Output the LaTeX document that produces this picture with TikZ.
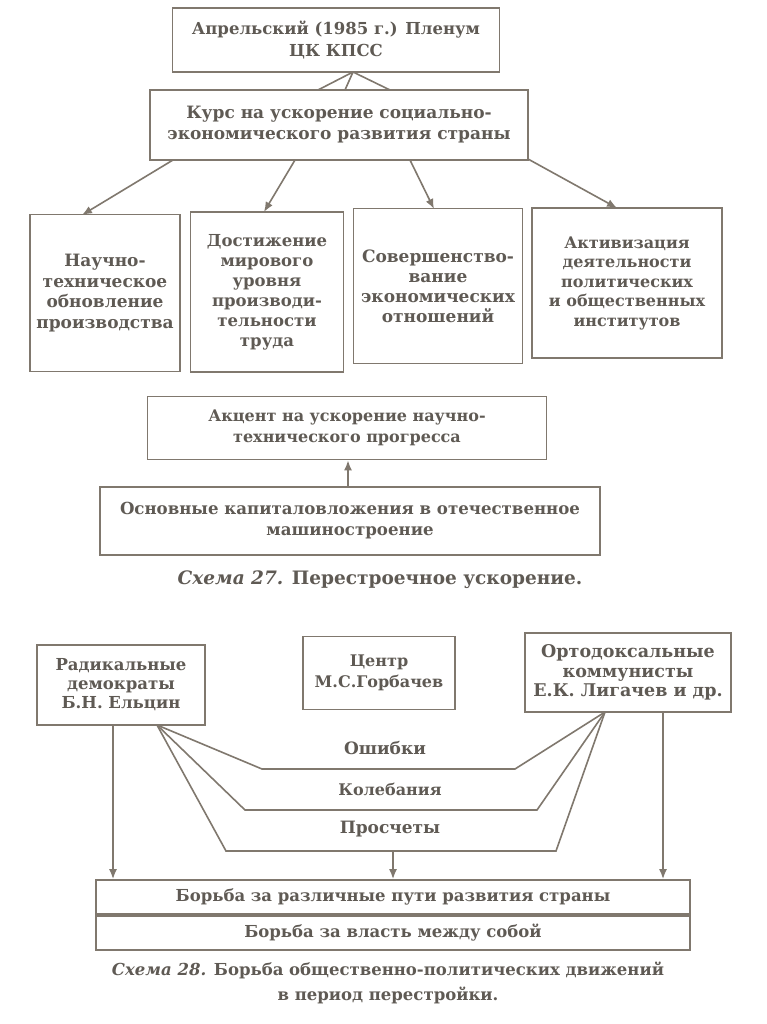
\documentclass[tikz,border=0pt]{standalone}
\usepackage{fontspec}
\setmainfont{DejaVu Serif}
\usetikzlibrary{arrows.meta,calc}
\definecolor{ink}{RGB}{95,90,84}
\definecolor{ln}{RGB}{128,120,110}
\newcommand{\fs}[2]{\bfseries\fontsize{#1}{#2}\selectfont}
\begin{document}
\begin{tikzpicture}[x=1pt,y=-1pt,
  box/.style={draw=ln,line width=1.8pt,align=center,text=ink,font=\fs{16}{20},inner sep=0pt},
  lbl/.style={text=ink,font=\fs{17}{22},inner sep=0pt},
  con/.style={draw=ln,line width=1.6pt},
  arr/.style={con,-{Latex[length=10pt,width=8pt]}}]
\useasboundingbox[fill=white] (0,0) rectangle (767,1024);
% --- Scheme 27
\node[box,font=\fs{16.5}{22},minimum width=327,minimum height=64] (top) at (336,40) {Апрельский (1985 г.) Пленум\\ЦК КПСС};
\node[box,font=\fs{17}{21},minimum width=378,minimum height=70] (kurs) at (339,125) {Курс на ускорение социально-\\экономического развития страны};
\node[box,font=\fs{17}{20.5},minimum width=150,minimum height=157] (b1) at (105,293) {Научно-\\техническое\\обновление\\производства};
\node[box,font=\fs{16.5}{20},minimum width=153,minimum height=160] (b2) at (267,292) {Достижение\\мирового\\уровня\\производи-\\тельности\\труда};
\node[box,font=\fs{17}{20},minimum width=169,minimum height=155] (b3) at (438,286) {Совершенство-\\вание\\экономических\\отношений};
\node[box,font=\fs{16}{19.5},minimum width=190,minimum height=150] (b4) at (627,283) {Активизация\\деятельности\\политических\\и общественных\\институтов};
\node[box,font=\fs{16}{21},minimum width=399,minimum height=63] (akc) at (347,428) {Акцент на ускорение научно-\\технического прогресса};
\node[box,font=\fs{16.6}{21},minimum width=500,minimum height=68] (osn) at (350,521) {Основные капиталовложения в отечественное\\машиностроение};
\node[lbl,font=\fs{18.5}{22}] (cap27) at (380,580) {\textit{Схема 27.} Перестроечное ускорение.};
% connectors top
\coordinate (apex) at (353,72);
\coordinate (f1) at (318,90);
\coordinate (f2) at (345,90);
\coordinate (f3) at (390,90);
\draw[con] (apex) -- (f1) (apex) -- (f2) (apex) -- (f3);
\coordinate (s1) at (173,160); \coordinate (e1) at (82,215);
\coordinate (s2) at (295,160); \coordinate (e2) at (264,212);
\coordinate (s3) at (410,160); \coordinate (e3) at (434,209);
\coordinate (s4) at (528,159); \coordinate (e4) at (617,208);
\draw[arr] (s1) -- (e1);
\draw[arr] (s2) -- (e2);
\draw[arr] (s3) -- (e3);
\draw[arr] (s4) -- (e4);
\draw[arr] (osn.north -| 348,0) -- (akc.south -| 348,0);
% --- Scheme 28
\node[box,font=\fs{16.5}{19},minimum width=168,minimum height=80] (rad) at (121,685) {Радикальные\\демократы\\Б.Н. Ельцин};
\node[box,font=\fs{16}{21},minimum width=152,minimum height=73] (cen) at (379,673) {Центр\\М.С.Горбачев};
\node[box,font=\fs{17.5}{19.5},minimum width=206,minimum height=79] (ort) at (628,672.5) {Ортодоксальные\\коммунисты\\Е.К. Лигачев и др.};
\node[box,font=\fs{16.5}{20},minimum width=594,minimum height=34] (bor1) at (393,897) {Борьба за различные пути развития страны};
\node[box,font=\fs{16.5}{20},minimum width=594,minimum height=34,anchor=north] (bor2) at (bor1.south) {Борьба за власть между собой};
\node[lbl,align=center,font=\fs{16.5}{25}] (cap28) at (388,983) {\textit{Схема 28.} Борьба общественно-политических движений\\в период перестройки.};
\coordinate (L) at (157,725);
\coordinate (R) at (605,712);
\draw[con] (L) -- (262,769) -- (515,769) -- (R);
\draw[con] (L) -- (245,810) -- (537,810) -- (R);
\draw[con] (L) -- (226,851) -- (556,851) -- (R);
\node[lbl] (osh) at (385,748) {Ошибки};
\node[lbl,font=\fs{16}{22}] (kol) at (390,789) {Колебания};
\node[lbl] (pro) at (390,829) {Просчеты};
\draw[arr] (rad.south -| 113,0) -- (bor1.north -| 113,0);
\draw[arr] (ort.south -| 663,0) -- (bor1.north -| 663,0);
\coordinate (pc) at (393,851);
\draw[arr] (pc) -- (bor1.north -| pc);
\end{tikzpicture}
\end{document}
